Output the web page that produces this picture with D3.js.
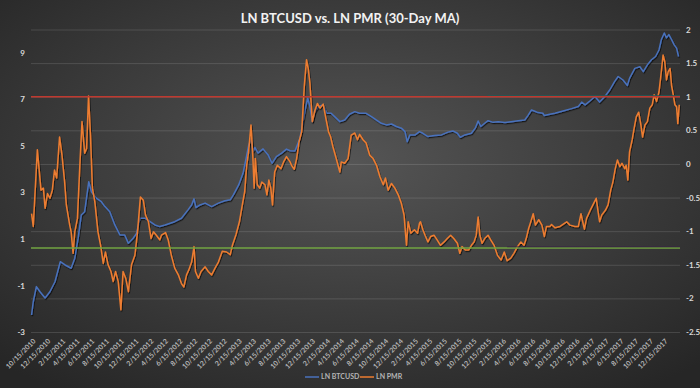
<!DOCTYPE html>
<html>
<head>
<meta charset="utf-8">
<script src="https://cdn.jsdelivr.net/npm/d3@7"></script>
<style>
  html, body { margin: 0; padding: 0; background: #333; }
  svg text { font-family: Lato, "Liberation Sans", sans-serif; }
</style>
</head>
<body>
<svg id="chart" width="700" height="388"></svg>
<script>
// ---- data ----
const title = "LN BTCUSD vs. LN PMR (30-Day MA)";
const seriesNames = ["LN BTCUSD", "LN PMR"];

const leftTicks = [-3, -1, 1, 3, 5, 7, 9];
const rightTicks = [-2.5, -2, -1.5, -1, -0.5, 0, 0.5, 1, 1.5, 2];
const xTickLabels = ["10/15/2010","12/15/2010","2/15/2011","4/15/2011","6/15/2011","8/15/2011","10/15/2011","12/15/2011",
  "2/15/2012","4/15/2012","6/15/2012","8/15/2012","10/15/2012","12/15/2012","2/15/2013","4/15/2013","6/15/2013","8/15/2013",
  "10/15/2013","12/15/2013","2/15/2014","4/15/2014","6/15/2014","8/15/2014","10/15/2014","12/15/2014","2/15/2015","4/15/2015",
  "6/15/2015","8/15/2015","10/15/2015","12/15/2015","2/15/2016","4/15/2016","6/15/2016","8/15/2016","10/15/2016","12/15/2016",
  "2/15/2017","4/15/2017","6/15/2017","8/15/2017","10/15/2017","12/15/2017"];

// reference levels on the right axis
const redLevel = 1;
const greenLevel = -1.25;

// LN BTCUSD (left axis)
const btcData = [
["2010-10-09",-2.27],["2010-10-16",-1.7],["2010-10-29",-1.05],["2010-11-13",-1.27],["2010-12-04",-1.54],["2010-12-24",-1.27],
["2011-01-14",-0.84],["2011-02-05",0.02],["2011-02-25",-0.12],["2011-03-22",-0.26],["2011-04-06",0.17],["2011-04-20",1.03],
["2011-05-03",2.03],["2011-05-17",2.17],["2011-06-03",3.46],["2011-06-14",3.03],["2011-07-04",2.75],["2011-07-25",2.6],
["2011-08-09",2.39],["2011-08-29",2.17],["2011-09-19",1.6],["2011-10-10",1.17],["2011-10-30",1.17],["2011-11-14",0.81],
["2011-12-04",1.03],["2011-12-18",1.24],["2012-01-01",1.89],["2012-01-22",1.89],["2012-02-12",1.74],["2012-03-03",1.6],
["2012-03-23",1.53],["2012-04-14",1.6],["2012-05-24",1.74],["2012-06-21",1.89],["2012-07-18",2.25],["2012-08-02",2.46],
["2012-08-12",2.72],["2012-08-20",2.35],["2012-09-06",2.46],["2012-09-27",2.54],["2012-10-24",2.39],["2012-11-21",2.54],
["2012-12-18",2.64],["2013-01-09",2.68],["2013-01-22",2.89],["2013-02-13",3.32],["2013-03-03",3.82],["2013-03-16",4.47],
["2013-03-26",5.0],["2013-04-05",5.3],["2013-04-14",4.76],["2013-04-21",4.93],["2013-05-04",4.69],["2013-05-25",4.87],
["2013-06-15",4.61],["2013-07-01",4.25],["2013-07-19",4.54],["2013-08-10",4.69],["2013-08-30",4.86],["2013-09-14",4.79],
["2013-10-04",4.78],["2013-10-25",5.33],["2013-11-15",6.54],["2013-11-26",7.05],["2013-12-05",6.69],["2013-12-15",6.04],
["2013-12-26",6.47],["2014-01-09",6.69],["2014-01-29",6.76],["2014-02-13",6.4],["2014-03-03",6.4],["2014-03-24",6.19],
["2014-04-08",6.04],["2014-04-28",6.11],["2014-05-18",6.36],["2014-06-09",6.47],["2014-06-29",6.4],["2014-07-26",6.4],
["2014-08-17",6.26],["2014-09-07",6.11],["2014-09-27",5.97],["2014-10-18",5.9],["2014-11-08",5.94],["2014-11-28",5.83],
["2014-12-19",5.76],["2015-01-03",5.61],["2015-01-12",5.18],["2015-01-23",5.47],["2015-02-14",5.47],["2015-03-04",5.61],
["2015-03-18",5.54],["2015-04-08",5.4],["2015-05-05",5.44],["2015-06-03",5.47],["2015-06-30",5.59],["2015-07-20",5.64],
["2015-08-08",5.54],["2015-08-20",5.37],["2015-09-08",5.47],["2015-10-05",5.54],["2015-10-21",5.76],["2015-11-02",6.07],
["2015-11-13",5.83],["2015-11-29",5.97],["2015-12-13",6.08],["2016-01-03",6.01],["2016-01-24",6.04],["2016-02-21",6.0],
["2016-03-18",6.04],["2016-04-16",6.08],["2016-05-13",6.11],["2016-05-26",6.3],["2016-06-10",6.54],["2016-06-21",6.5],
["2016-07-07",6.43],["2016-07-27",6.4],["2016-08-02",6.3],["2016-08-25",6.36],["2016-09-15",6.4],["2016-10-19",6.5],
["2016-11-23",6.6],["2016-12-21",6.69],["2017-01-04",6.88],["2017-01-18",6.76],["2017-02-08",6.94],["2017-02-28",7.12],
["2017-03-19",6.88],["2017-04-10",7.12],["2017-04-30",7.4],["2017-05-20",7.76],["2017-06-04",7.98],["2017-06-24",7.83],
["2017-07-12",7.59],["2017-07-21",7.9],["2017-08-12",8.33],["2017-09-02",8.4],["2017-09-16",8.19],["2017-10-03",8.48],
["2017-10-20",8.7],["2017-11-06",8.84],["2017-11-20",9.12],["2017-11-30",9.57],["2017-12-12",9.85],["2017-12-21",9.64],
["2017-12-31",9.78],["2018-01-11",9.57],["2018-01-22",9.34],["2018-02-01",9.2],["2018-02-09",8.84]
];

// LN PMR (right axis)
const pmrData = [
["2010-10-09",-0.74],["2010-10-16",-0.93],["2010-10-23",-0.46],["2010-11-02",0.21],["2010-11-09",-0.07],["2010-11-17",-0.39],
["2010-11-27",-0.36],["2010-12-04",-0.66],["2010-12-14",-0.44],["2010-12-24",-0.51],["2011-01-03",-0.39],["2011-01-12",-0.09],
["2011-01-21",-0.21],["2011-02-02",0.40],["2011-02-12",0.13],["2011-02-23",-0.27],["2011-03-02",-0.61],["2011-03-16",-0.91],
["2011-03-22",-1.01],["2011-03-30",-1.33],["2011-04-06",-1.01],["2011-04-17",-0.81],["2011-04-27",-0.02],["2011-05-06",0.63],
["2011-05-17",0.16],["2011-05-25",0.23],["2011-06-02",1.01],["2011-06-10",0.43],["2011-06-18",-0.36],["2011-06-28",-0.56],
["2011-07-11",-1.01],["2011-07-22",-1.21],["2011-08-02",-1.48],["2011-08-11",-1.31],["2011-08-22",-1.50],["2011-09-03",-1.60],
["2011-09-12",-1.75],["2011-09-22",-1.60],["2011-10-03",-1.75],["2011-10-14",-2.17],["2011-10-23",-1.60],["2011-11-03",-1.70],
["2011-11-14",-1.90],["2011-11-27",-1.50],["2011-12-11",-1.36],["2011-12-22",-1.01],["2012-01-03",-0.49],["2012-01-15",-0.54],
["2012-01-24",-0.76],["2012-02-05",-0.86],["2012-02-16",-1.11],["2012-02-26",-1.01],["2012-03-09",-1.06],["2012-03-23",-1.13],
["2012-03-30",-1.06],["2012-04-16",-1.02],["2012-04-27",-1.13],["2012-05-10",-1.36],["2012-05-24",-1.55],["2012-06-08",-1.65],
["2012-06-21",-1.78],["2012-07-01",-1.83],["2012-07-12",-1.65],["2012-07-21",-1.58],["2012-08-02",-1.46],["2012-08-12",-1.23],
["2012-08-18",-1.60],["2012-08-30",-1.70],["2012-09-10",-1.60],["2012-09-27",-1.53],["2012-10-10",-1.60],["2012-10-24",-1.65],
["2012-11-07",-1.55],["2012-11-21",-1.46],["2012-12-07",-1.30],["2012-12-25",-1.31],["2013-01-09",-1.35],["2013-01-18",-1.21],
["2013-02-02",-1.05],["2013-02-16",-0.86],["2013-02-28",-0.61],["2013-03-10",-0.41],["2013-03-18",-0.02],["2013-03-26",0.18],
["2013-04-05",0.58],["2013-04-13",0.08],["2013-04-18",-0.36],["2013-04-23",0.08],["2013-05-01",-0.31],["2013-05-11",-0.36],
["2013-05-20",-0.27],["2013-06-02",-0.31],["2013-06-10",-0.46],["2013-06-18",-0.24],["2013-06-26",-0.36],["2013-07-03",-0.61],
["2013-07-12",-0.12],["2013-07-23",-0.02],["2013-08-07",-0.07],["2013-08-18",0.03],["2013-08-30",0.11],["2013-09-14",0.03],
["2013-09-20",-0.02],["2013-10-01",-0.08],["2013-10-11",0.08],["2013-10-21",0.33],["2013-11-01",0.48],["2013-11-12",1.17],
["2013-11-21",1.55],["2013-11-28",1.42],["2013-12-05",1.20],["2013-12-15",0.63],["2013-12-26",0.80],["2014-01-05",0.90],
["2014-01-16",0.83],["2014-01-29",0.89],["2014-02-09",0.68],["2014-02-20",0.48],["2014-03-01",0.40],["2014-03-10",0.26],
["2014-03-24",0.08],["2014-04-08",-0.12],["2014-04-14",0.03],["2014-04-28",0.01],["2014-05-12",0.08],["2014-05-25",0.43],
["2014-06-09",0.46],["2014-06-20",0.36],["2014-06-29",0.44],["2014-07-13",0.36],["2014-07-26",0.31],["2014-08-10",0.13],
["2014-08-24",0.08],["2014-09-07",-0.02],["2014-09-21",-0.19],["2014-10-05",-0.31],["2014-10-14",-0.21],["2014-10-25",-0.39],
["2014-11-08",-0.29],["2014-11-22",-0.36],["2014-12-06",-0.46],["2014-12-19",-0.59],["2014-12-30",-0.76],["2015-01-09",-1.21],
["2015-01-16",-0.86],["2015-01-27",-1.03],["2015-02-11",-0.98],["2015-02-24",-1.03],["2015-03-04",-0.88],["2015-03-08",-0.86],
["2015-03-18",-0.98],["2015-03-27",-1.06],["2015-04-08",-1.16],["2015-04-19",-1.08],["2015-05-03",-1.06],["2015-05-16",-1.13],
["2015-05-30",-1.21],["2015-06-14",-1.16],["2015-06-27",-1.11],["2015-07-11",-1.06],["2015-07-24",-1.11],["2015-08-08",-1.18],
["2015-08-18",-1.33],["2015-08-27",-1.23],["2015-09-10",-1.28],["2015-09-24",-1.28],["2015-10-05",-1.21],["2015-10-16",-1.16],
["2015-10-25",-1.06],["2015-11-02",-0.79],["2015-11-09",-1.06],["2015-11-18",-1.18],["2015-11-29",-1.11],["2015-12-13",-1.06],
["2015-12-24",-1.13],["2016-01-07",-1.21],["2016-01-21",-1.36],["2016-02-05",-1.43],["2016-02-18",-1.31],["2016-03-01",-1.44],
["2016-03-16",-1.40],["2016-03-29",-1.33],["2016-04-13",-1.23],["2016-04-27",-1.16],["2016-05-10",-1.21],["2016-05-19",-1.11],
["2016-05-29",-0.96],["2016-06-07",-0.86],["2016-06-17",-0.74],["2016-06-26",-0.91],["2016-07-10",-0.83],["2016-07-23",-0.91],
["2016-08-02",-1.08],["2016-08-11",-0.93],["2016-08-25",-0.93],["2016-09-01",-0.90],["2016-09-15",-0.95],["2016-10-06",-0.93],
["2016-10-26",-0.88],["2016-11-03",-0.86],["2016-11-16",-0.91],["2016-12-07",-0.93],["2016-12-21",-0.93],["2017-01-01",-0.74],
["2017-01-08",-0.86],["2017-01-15",-0.97],["2017-01-24",-0.81],["2017-02-08",-0.69],["2017-02-22",-0.59],["2017-03-05",-0.51],
["2017-03-12",-0.69],["2017-03-19",-0.86],["2017-03-28",-0.76],["2017-04-12",-0.69],["2017-04-23",-0.61],["2017-05-04",-0.39],
["2017-05-13",-0.27],["2017-05-23",-0.07],["2017-06-01",0.06],["2017-06-11",-0.04],["2017-06-20",0.01],["2017-07-01",-0.07],
["2017-07-07",-0.02],["2017-07-14",-0.24],["2017-07-21",0.18],["2017-08-01",0.36],["2017-08-09",0.53],["2017-08-18",0.70],
["2017-08-28",0.77],["2017-09-06",0.58],["2017-09-13",0.40],["2017-09-23",0.58],["2017-10-03",0.63],["2017-10-13",0.83],
["2017-10-23",0.88],["2017-10-31",1.03],["2017-11-10",0.93],["2017-11-20",1.07],["2017-11-28",1.32],["2017-12-07",1.62],
["2017-12-14",1.52],["2017-12-21",1.25],["2017-12-28",1.37],["2018-01-05",1.42],["2018-01-11",1.17],["2018-01-18",1.03],
["2018-01-25",0.88],["2018-02-01",0.85],["2018-02-06",0.60],["2018-02-12",0.88]
];

// ---- layout ----
const width = 700, height = 388;
const plot = {left: 31, right: 680, top: 29.5, bottom: 332};
const blue = "#4a72bd", orange = "#ed7d31";

const parseDay = d3.timeParse("%Y-%m-%d");
const parseTick = d3.timeParse("%m/%d/%Y");

const svg = d3.select("#chart");
const defs = svg.append("defs");

// dark radial background
const bg = defs.append("radialGradient").attr("id", "bg")
  .attr("cx", "50%").attr("cy", "42%").attr("r", "72%");
bg.append("stop").attr("offset", "0%").attr("stop-color", "#555555");
bg.append("stop").attr("offset", "100%").attr("stop-color", "#262626");

const shadow = defs.append("filter").attr("id", "shadow")
  .attr("x", "-5%").attr("y", "-5%").attr("width", "110%").attr("height", "110%");
shadow.append("feDropShadow").attr("dx", 0.8).attr("dy", 1.2).attr("stdDeviation", 0.7)
  .attr("flood-color", "#000").attr("flood-opacity", 0.7);

svg.append("rect").attr("width", width).attr("height", height).attr("fill", "url(#bg)");

// title
svg.append("text")
  .attr("x", 350).attr("y", 23)
  .attr("text-anchor", "middle")
  .style("font-size", "13px").style("font-weight", "bold")
  .attr("fill", "#f2f2f2")
  .text(title);

// scales
const x = d3.scaleTime()
  .domain([parseTick("10/15/2010"), parseTick("12/15/2017")])
  .range([33, 665]);
const yL = d3.scaleLinear().domain([-3, 10]).range([plot.bottom, plot.top]);
const yR = d3.scaleLinear().domain([-2.5, 2]).range([plot.bottom, plot.top]);

// gridlines (follow the secondary axis)
const grid = svg.append("g")
  .attr("transform", "translate(" + plot.right + ",0)")
  .call(d3.axisLeft(yR).tickValues(rightTicks).tickSize(plot.right - plot.left).tickFormat(""));
grid.select(".domain").remove();
grid.selectAll("line").attr("stroke", "#ffffff").attr("stroke-opacity", 0.13);

// left axis
const axL = svg.append("g")
  .attr("transform", "translate(27,0)")
  .call(d3.axisLeft(yL).tickValues(leftTicks).tickSize(0).tickPadding(2).tickFormat(d => d));
axL.select(".domain").remove();
axL.selectAll("text").attr("fill", "#d9d9d9").style("font-size", "8px").style("font-weight", "bold");

// right axis
const axR = svg.append("g")
  .attr("transform", "translate(683,0)")
  .call(d3.axisRight(yR).tickValues(rightTicks).tickSize(0).tickPadding(3).tickFormat(d => d));
axR.select(".domain").remove();
axR.selectAll("text").attr("fill", "#d9d9d9").style("font-size", "8px").style("font-weight", "bold");

// bottom axis, rotated dates
const axB = svg.append("g")
  .attr("transform", "translate(0," + plot.bottom + ")")
  .call(d3.axisBottom(x).tickValues(xTickLabels.map(parseTick)).tickSize(0)
    .tickFormat(d3.timeFormat("%-m/%-d/%Y")));
axB.select(".domain").remove();
axB.selectAll("text")
  .attr("y", 0).attr("dy", "0.35em")
  .attr("transform", "translate(1,8) rotate(-45)")
  .style("text-anchor", "end")
  .style("font-size", "7px").style("font-weight", "bold")
  .attr("fill", "#b5b5b5");

// series
const lineL = d3.line().x(d => x(parseDay(d[0]))).y(d => yL(d[1]));
const lineR = d3.line().x(d => x(parseDay(d[0]))).y(d => yR(d[1]));

svg.append("path").datum(btcData)
  .attr("d", lineL).attr("fill", "none")
  .attr("stroke", blue).attr("stroke-width", 1.5).attr("stroke-linejoin", "round")
  .attr("filter", "url(#shadow)");

svg.append("path").datum(pmrData)
  .attr("d", lineR).attr("fill", "none")
  .attr("stroke", orange).attr("stroke-width", 1.5).attr("stroke-linejoin", "round")
  .attr("filter", "url(#shadow)");

// reference levels
svg.append("line")
  .attr("x1", plot.left).attr("x2", plot.right)
  .attr("y1", yR(redLevel)).attr("y2", yR(redLevel))
  .attr("stroke", "#c0392f").attr("stroke-width", 1.5);
svg.append("line")
  .attr("x1", x(parseDay("2015-12-10"))).attr("x2", plot.right)
  .attr("y1", yR(redLevel) - 1.2).attr("y2", yR(redLevel) - 1.2)
  .attr("stroke", "#1f5a58").attr("stroke-width", 0.8);
svg.append("line")
  .attr("x1", plot.left).attr("x2", plot.right)
  .attr("y1", yR(greenLevel)).attr("y2", yR(greenLevel))
  .attr("stroke", "#72a542").attr("stroke-width", 1.5);
svg.append("line")
  .attr("x1", x(parseDay("2016-03-01"))).attr("x2", plot.right)
  .attr("y1", yR(greenLevel) - 1.2).attr("y2", yR(greenLevel) - 1.2)
  .attr("stroke", "#3b2346").attr("stroke-width", 0.8);

// legend
const legend = svg.append("g").attr("transform", "translate(0,377)");
const legendItems = [
  {name: seriesNames[0], color: blue, x: 305},
  {name: seriesNames[1], color: orange, x: 360}
];
legend.selectAll("line").data(legendItems).join("line")
  .attr("x1", d => d.x).attr("x2", d => d.x + 14)
  .attr("y1", 0).attr("y2", 0)
  .attr("stroke", d => d.color).attr("stroke-width", 1.5);
legend.selectAll("text").data(legendItems).join("text")
  .attr("x", d => d.x + 16).attr("y", 0).attr("dy", "0.35em")
  .style("font-size", "7px").style("font-weight", "bold")
  .attr("fill", "#b5b5b5")
  .text(d => d.name);
</script>
</body>
</html>
